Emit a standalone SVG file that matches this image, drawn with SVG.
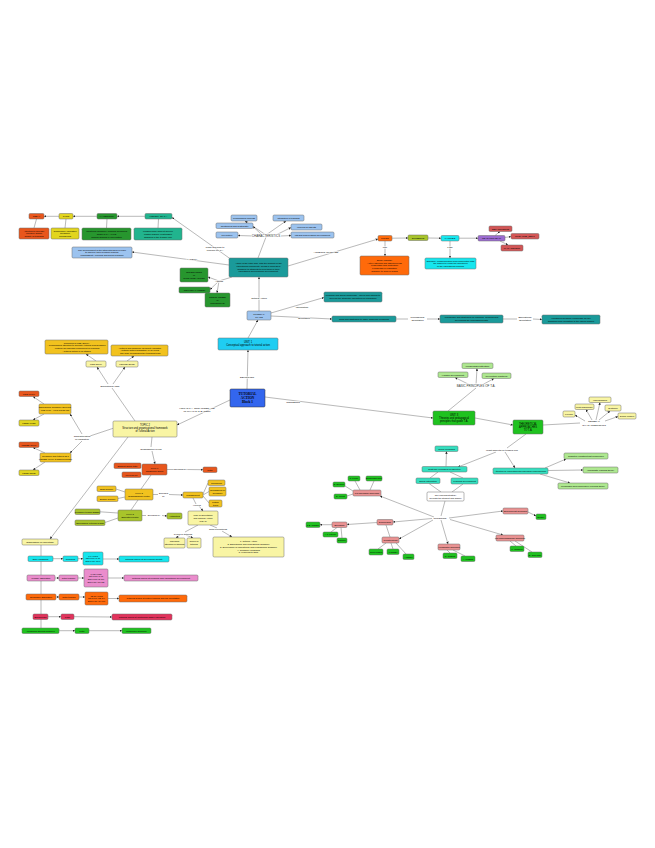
<svg xmlns="http://www.w3.org/2000/svg" width="655" height="848" viewBox="0 0 655 848">
<style>
text{font-family:"Liberation Sans",Arial,sans-serif;fill:#000;text-anchor:middle}
.s{font-size:2.3px}
.m{font-size:2.6px}
.lb{font-size:2.5px;paint-order:stroke;stroke:#fff;stroke-width:1.1px;stroke-linejoin:round}
.hb{font-size:3px;fill:#333;paint-order:stroke;stroke:#fff;stroke-width:1.1px}
.sf{font-family:"Liberation Serif","Times New Roman",serif;font-size:3.4px;font-weight:bold}
rect{stroke:#6d6d6d;stroke-width:0.5}
rect.bgd{stroke:none;fill:#fff}
.c line{stroke:#8a8a8a;stroke-width:0.6}
.c .a{marker-end:url(#ar)}
.or{fill:#e8561c}.ye{fill:#e2d51e}.gr{fill:#27962e}.te{fill:#21b48e}.lbl{fill:#9cc3ef}.tl{fill:#1a9a9a}
.oo{fill:#ff6a0a}.ol{fill:#a8c42a}.cy{fill:#16e6ee}.pu{fill:#9b6bd0}.rd{fill:#d35656}.go{fill:#f2c21e}
.ly{fill:#f9f5a4}.lg{fill:#aee890}.bg{fill:#1fc21f}.pk{fill:#ea9292}.pm{fill:#ea8ccc}.cr{fill:#e2335c}
.tq{fill:#35dfc0}.bl{fill:#3366ee}.u1{fill:#1fcdf2}.wh{fill:#ffffff}
</style>
<defs>
<marker id="ar" viewBox="0 0 10 10" refX="10" refY="5" markerWidth="2.4" markerHeight="2.4" markerUnits="userSpaceOnUse" orient="auto"><path d="M0,0L10,5L0,10z" fill="#222"/></marker>
</defs>
<rect class="bgd" x="0" y="0" width="655" height="848"/>
<g id="connectors" class="c">
<line class="a" x1="145" y1="216.3" x2="117" y2="216.3"/>
<line class="a" x1="97" y1="216.3" x2="73" y2="216.3"/>
<line class="a" x1="59" y1="216.3" x2="44" y2="216.3"/>
<line x1="36.5" y1="219" x2="34" y2="228"/>
<line x1="66" y1="219" x2="65" y2="228"/>
<line x1="107" y1="219" x2="106.5" y2="228"/>
<line x1="158.5" y1="219" x2="158" y2="228"/>
<line class="a" x1="232" y1="260" x2="172" y2="217.5"/>
<line class="a" x1="229" y1="265" x2="132" y2="252"/>
<line x1="232" y1="277" x2="219" y2="281"/>
<line class="a" x1="219" y1="281" x2="208" y2="277"/>
<line class="a" x1="219" y1="281" x2="210" y2="289.5"/>
<line class="a" x1="219" y1="281" x2="217" y2="293"/>
<line x1="258" y1="258" x2="266" y2="237"/>
<line class="a" x1="266" y1="235" x2="245" y2="221"/>
<line class="a" x1="266" y1="235" x2="286" y2="221"/>
<line class="a" x1="262" y1="235" x2="253" y2="226.5"/>
<line class="a" x1="276" y1="235" x2="291" y2="227.5"/>
<line class="a" x1="254" y1="236" x2="238" y2="235.5"/>
<line class="a" x1="281" y1="236" x2="291" y2="235.5"/>
<line class="a" x1="288" y1="266" x2="378" y2="239"/>
<line class="a" x1="392" y1="238.2" x2="408" y2="238"/>
<line class="a" x1="428" y1="238" x2="441" y2="238.2"/>
<line class="a" x1="459" y1="238.2" x2="478" y2="238.2"/>
<line class="a" x1="495" y1="235.5" x2="500" y2="231.5"/>
<line class="a" x1="505" y1="237.5" x2="511" y2="236.5"/>
<line class="a" x1="500" y1="241" x2="508" y2="245"/>
<line class="a" x1="385" y1="241" x2="385" y2="256"/>
<line class="a" x1="450" y1="241" x2="450" y2="258"/>
<line class="a" x1="259" y1="311" x2="259" y2="277"/>
<line class="a" x1="271" y1="313" x2="324" y2="297.5"/>
<line class="a" x1="271" y1="316" x2="332" y2="319"/>
<line x1="396" y1="319" x2="408" y2="319"/>
<line class="a" x1="427" y1="319" x2="440" y2="319"/>
<line x1="503" y1="319" x2="517" y2="319"/>
<line class="a" x1="533" y1="319" x2="542" y2="319.5"/>
<line class="a" x1="248" y1="338" x2="258" y2="320"/>
<line class="a" x1="247" y1="389" x2="248" y2="350"/>
<line class="a" x1="265" y1="397" x2="433" y2="418"/>
<line class="a" x1="230" y1="400" x2="177" y2="425"/>
<line x1="448" y1="411" x2="476" y2="388"/>
<line class="a" x1="476" y1="385" x2="477" y2="368.5"/>
<line class="a" x1="470" y1="385" x2="455" y2="377.5"/>
<line class="a" x1="482" y1="385" x2="494" y2="378.5"/>
<line class="a" x1="475" y1="418" x2="513" y2="425"/>
<line x1="543" y1="425" x2="580" y2="423"/>
<line class="a" x1="596" y1="420" x2="600" y2="402.5"/>
<line class="a" x1="592" y1="420" x2="586" y2="409.5"/>
<line class="a" x1="599" y1="420" x2="610" y2="411"/>
<line class="a" x1="585" y1="421" x2="575" y2="415"/>
<line class="a" x1="605" y1="421" x2="618" y2="416.5"/>
<line x1="526" y1="434" x2="507" y2="448"/>
<line class="a" x1="496" y1="452" x2="458" y2="467"/>
<line class="a" x1="505" y1="452" x2="515" y2="468"/>
<line class="a" x1="446" y1="466.5" x2="446.5" y2="451.5"/>
<line x1="438" y1="472" x2="430" y2="478"/>
<line x1="450" y1="472" x2="463" y2="478"/>
<line x1="429" y1="483.5" x2="441" y2="492"/>
<line x1="463" y1="484" x2="452" y2="492"/>
<line class="a" x1="545" y1="468" x2="566" y2="459"/>
<line class="a" x1="548" y1="470.5" x2="583" y2="470"/>
<line class="a" x1="540" y1="474" x2="570" y2="483"/>
<line x1="445" y1="501" x2="441" y2="516"/>
<line class="a" x1="434" y1="517" x2="380" y2="496"/>
<line class="a" x1="432" y1="518.5" x2="393" y2="522"/>
<line class="a" x1="449" y1="518" x2="503" y2="511"/>
<line class="a" x1="441" y1="520" x2="448" y2="544"/>
<line class="a" x1="450" y1="519.5" x2="503" y2="535"/>
<line class="a" x1="433" y1="520" x2="399" y2="539"/>
<line x1="360" y1="490" x2="355" y2="481"/>
<line x1="370" y1="490" x2="374" y2="481"/>
<line x1="353" y1="491" x2="345" y2="486"/>
<line x1="353" y1="494" x2="347" y2="496"/>
<line class="a" x1="377" y1="522.5" x2="347" y2="524.5"/>
<line class="a" x1="332" y1="524.7" x2="320" y2="524.7"/>
<line x1="337" y1="527.5" x2="331" y2="532"/>
<line x1="341" y1="527.5" x2="342" y2="538"/>
<line x1="386" y1="525" x2="390" y2="537"/>
<line x1="386" y1="543" x2="378" y2="549"/>
<line x1="391" y1="543" x2="393" y2="549"/>
<line x1="396" y1="543" x2="406" y2="554"/>
<line class="a" x1="528" y1="512" x2="536" y2="516"/>
<line x1="447" y1="550" x2="450" y2="553"/>
<line x1="453" y1="550" x2="465" y2="556"/>
<line x1="510" y1="541" x2="516" y2="546"/>
<line x1="515" y1="541" x2="532" y2="552"/>
<line x1="135" y1="421" x2="112" y2="388"/>
<line class="a" x1="108" y1="384" x2="97" y2="367"/>
<line class="a" x1="113" y1="384" x2="125" y2="367"/>
<line class="a" x1="96" y1="361" x2="86" y2="354"/>
<line class="a" x1="127" y1="361" x2="134" y2="356"/>
<line x1="114" y1="428" x2="90" y2="436"/>
<line class="a" x1="82" y1="434" x2="70" y2="414"/>
<line class="a" x1="82" y1="441" x2="70" y2="453"/>
<line class="a" x1="44" y1="404" x2="33" y2="396.5"/>
<line class="a" x1="44" y1="414" x2="33" y2="420"/>
<line class="a" x1="45" y1="453" x2="33" y2="447.5"/>
<line class="a" x1="45" y1="462" x2="33" y2="470"/>
<line x1="152" y1="437" x2="151" y2="447"/>
<line class="a" x1="152" y1="451" x2="155" y2="464"/>
<line x1="167" y1="469.5" x2="175" y2="469.5"/>
<line class="a" x1="186" y1="469.5" x2="203" y2="469.7"/>
<line x1="151" y1="475" x2="141" y2="489"/>
<line x1="125" y1="492" x2="116" y2="489"/>
<line x1="125" y1="497" x2="118" y2="498.5"/>
<line x1="153" y1="494.5" x2="158" y2="494.5"/>
<line class="a" x1="169" y1="494.5" x2="183" y2="495"/>
<line x1="203" y1="494" x2="208" y2="483"/>
<line x1="203" y1="495" x2="209" y2="491.5"/>
<line x1="203" y1="496" x2="209" y2="503"/>
<line x1="193" y1="498" x2="196" y2="504"/>
<line class="a" x1="199" y1="506" x2="203" y2="511"/>
<line x1="138" y1="500" x2="131" y2="510"/>
<line x1="118" y1="513" x2="100" y2="511.8"/>
<line x1="118" y1="518" x2="105" y2="522.5"/>
<line x1="142" y1="515.5" x2="146" y2="515.5"/>
<line class="a" x1="162" y1="515.5" x2="167" y2="516"/>
<line x1="198" y1="525" x2="185" y2="532"/>
<line class="a" x1="180" y1="535" x2="176" y2="538"/>
<line class="a" x1="186" y1="535" x2="193" y2="538"/>
<line x1="210" y1="525" x2="217" y2="528"/>
<line class="a" x1="222" y1="531" x2="232" y2="537"/>
<line class="a" x1="128" y1="437" x2="50" y2="539"/>
<line x1="41" y1="545" x2="41" y2="628"/>
<line class="a" x1="53" y1="558.7" x2="63" y2="558.7"/>
<line class="a" x1="78" y1="558.7" x2="83" y2="558.7"/>
<line class="a" x1="103" y1="559" x2="119" y2="559"/>
<line class="a" x1="55" y1="578" x2="59" y2="578"/>
<line class="a" x1="78" y1="578" x2="84" y2="578"/>
<line class="a" x1="108" y1="578" x2="124" y2="578"/>
<line class="a" x1="56" y1="597" x2="59" y2="597"/>
<line class="a" x1="79" y1="597" x2="85" y2="597"/>
<line class="a" x1="108" y1="598.5" x2="119" y2="598.5"/>
<line class="a" x1="48" y1="616.7" x2="61" y2="616.7"/>
<line class="a" x1="74" y1="616.7" x2="112" y2="617"/>
<line class="a" x1="59" y1="630.7" x2="75" y2="630.7"/>
<line class="a" x1="89" y1="630.7" x2="122" y2="630.7"/>
</g>
<g id="labels">
<text class="lb" x="215" y="248">What and how to</text>
<text class="lb" x="215" y="251">prepare for T.A</text>
<text class="lb" x="192" y="260">VALIDITY</text>
<text class="lb" x="219" y="282">Assess</text>
<text class="hb" x="266" y="236.5">CHARACTERISTICS</text>
<text class="lb" x="326" y="253">ASPECTS INVOLVED</text>
<text class="lb" x="385" y="248">Use</text>
<text class="lb" x="450" y="248">FOR</text>
<text class="lb" x="259" y="299">Tutorial Action</text>
<text class="lb" x="302" y="308">Information</text>
<text class="lb" x="304" y="318.8">Orientation</text>
<text class="lb" x="417.5" y="318">Professional</text>
<text class="lb" x="417.5" y="321">Orientation</text>
<text class="lb" x="525" y="318">Educational</text>
<text class="lb" x="525" y="321">Orientation</text>
<text class="lb" x="247" y="378">DEFINITION</text>
<text class="lb" x="293" y="403">CONTENTS</text>
<text class="lb" x="197" y="409">HOW IS T.A. ORGANISED AND</text>
<text class="lb" x="197" y="412.2">IN WHAT IS IT BASED?</text>
<text class="hb" x="476" y="387">BASIC PRINCIPLES OF T.A.</text>
<text class="lb" x="594" y="422">GENERAL</text>
<text class="lb" x="594" y="425.5">CHARACTERISTICS</text>
<text class="lb" x="502" y="451">What aspects is it based on?</text>
<text class="lb" x="440" y="519">TUTORING</text>
<text class="lb" x="110" y="387">Educational laws</text>
<text class="lb" x="82" y="436.5">Characteristics</text>
<text class="lb" x="82" y="439.8">of legislation</text>
<text class="lb" x="151" y="450">Organisation levels</text>
<text class="lb" x="180.5" y="470.3">Decided by</text>
<text class="lb" x="163.5" y="493.5">Decided</text>
<text class="lb" x="163.5" y="496.5">by</text>
<text class="lb" x="197" y="506">Helped</text>
<text class="lb" x="154" y="516.3">Decided by</text>
<text class="lb" x="183" y="534.5">Types of tutoring</text>
<text class="lb" x="218" y="530">Tutor's functions</text>
</g>
<g id="a1"><rect class="or" x="29" y="213.5" width="15" height="5.5" rx="1.2"/><text class="s" x="36.5" y="217.1">TODAY</text></g>
<g id="a2"><rect class="ye" x="59" y="213.5" width="14" height="5.5" rx="1.2"/><text class="s" x="66" y="217.1">1970s</text></g>
<g id="a3"><rect class="gr" x="97" y="213.5" width="20" height="5.5" rx="1.2"/><text class="s" x="107" y="217.1">XX CENTURY</text></g>
<g id="a4"><rect class="te" x="145" y="213.5" width="27" height="5.5" rx="1.2"/><text class="s" x="158.5" y="217.1">HISTORY OF T.A.</text></g>
<g id="b1"><rect class="or" x="19" y="228" width="30" height="11" rx="1.2"/><text class="s"><tspan x="34" y="231.6">Attention to diversity</tspan><tspan x="34" y="234.3">Inclusive school</tspan><tspan x="34" y="237">Quality of teaching</tspan></text></g>
<g id="b2"><rect class="ye" x="51" y="228" width="28" height="11" rx="1.2"/><text class="s"><tspan x="65" y="231.6">Compulsory education</tspan><tspan x="65" y="234.3">Guidance</tspan><tspan x="65" y="237">Counselling</tspan></text></g>
<g id="b3"><rect class="gr" x="82" y="228" width="49" height="12" rx="1.2"/><text class="s"><tspan x="106.5" y="232.1">Vocational guidance: Parsons and Davis</tspan><tspan x="106.5" y="234.8">Origin of T.A. in US</tspan><tspan x="106.5" y="237.5">Tutorial schools in universities</tspan></text></g>
<g id="b4"><rect class="te" x="134" y="228" width="48" height="12" rx="1.2"/><text class="s"><tspan x="158" y="232.1">Lessons from ancient Greece</tspan><tspan x="158" y="234.8">Master-disciple relationship</tspan><tspan x="158" y="237.5">Changes in the teacher role</tspan></text></g>
<g id="c1"><rect class="lbl" x="72" y="247" width="60" height="11" rx="1.2"/><text class="s"><tspan x="102" y="250.6">The development of the student's skills in order</tspan><tspan x="102" y="253.3">to improve their decision-making,</tspan><tspan x="102" y="256">responsibility, learning and social inclusion</tspan></text></g>
<g id="g1"><rect class="gr" x="180" y="268" width="28" height="14" rx="1.2"/><text class="s"><tspan x="194" y="273.1">SUPERVISION</tspan><tspan x="194" y="275.8">of</tspan><tspan x="194" y="278.5">GUIDANCE ACTION</tspan></text></g>
<g id="g2"><rect class="gr" x="179" y="287" width="31" height="6" rx="1.2"/><text class="s" x="194.5" y="290.8">INDIVIDUAL MODEL</text></g>
<g id="g3"><rect class="gr" x="205" y="293" width="25" height="14" rx="1.2"/><text class="s"><tspan x="217.5" y="298.1">GROUP MODEL</tspan><tspan x="217.5" y="300.8">or</tspan><tspan x="217.5" y="303.5">COLLECTIVE</tspan></text></g>
<g id="main"><rect class="tl" x="229" y="258" width="59" height="19" rx="1.2"/><text class="s"><tspan x="258.5" y="264.2">Action of the tutor who, with the support of the</tspan><tspan x="258.5" y="266.9">educational community, brings a process of</tspan><tspan x="258.5" y="269.6">guidance to students to help them in their</tspan><tspan x="258.5" y="272.3">educational and personal development.</tspan></text></g>
<g id="l1"><rect class="lbl" x="231" y="215" width="26" height="6" rx="1.2"/><text class="s" x="244" y="218.8">Personalised process</text></g>
<g id="l2"><rect class="lbl" x="273" y="215" width="31" height="6" rx="1.2"/><text class="s" x="288.5" y="218.8">Integrated in teaching</text></g>
<g id="l3"><rect class="lbl" x="216" y="223" width="37" height="5.5" rx="1.2"/><text class="s" x="234.5" y="226.6">Continuous and systematic</text></g>
<g id="l4"><rect class="lbl" x="291" y="224" width="31" height="6" rx="1.2"/><text class="s" x="306.5" y="227.8">Involves all agents</text></g>
<g id="l5"><rect class="lbl" x="216" y="232" width="22" height="6" rx="1.2"/><text class="s" x="227" y="235.8">Preventive</text></g>
<g id="l6"><rect class="lbl" x="291" y="232" width="43" height="6" rx="1.2"/><text class="s" x="312.5" y="235.8">Integral and personal development</text></g>
<g id="t1"><rect class="oo" x="378" y="235.5" width="14" height="5.5" rx="1.2"/><text class="s" x="385" y="239.1">TUTOR</text></g>
<g id="t2"><rect class="ol" x="408" y="235" width="20" height="5.5" rx="1.2"/><text class="s" x="418" y="238.6">STUDENTS</text></g>
<g id="t3"><rect class="cy" x="441" y="235.5" width="18" height="5.5" rx="1.2"/><text class="s" x="450" y="239.1">FAMILIES</text></g>
<g id="t4"><rect class="pu" x="478" y="235.5" width="27" height="5.5" rx="1.2"/><text class="s" x="491.5" y="239.1">TEACHING TEAM</text></g>
<g id="r1"><rect class="rd" x="489" y="226" width="23" height="5.5" rx="1.2"/><text class="s" x="500.5" y="229.6">DEPARTMENTS</text></g>
<g id="r2"><rect class="rd" x="511" y="233.5" width="28" height="5.5" rx="1.2"/><text class="s" x="525" y="237.1">GUIDANCE_DEPT.</text></g>
<g id="r3"><rect class="rd" x="501" y="245" width="22" height="6" rx="1.2"/><text class="s" x="512" y="248.8">MANAGEMENT</text></g>
<g id="ob"><rect class="oo" x="360" y="256" width="49" height="19" rx="1.2"/><text class="s"><tspan x="384.5" y="260.9">Skills: empathy</tspan><tspan x="384.5" y="263.6">Active listening and assertiveness</tspan><tspan x="384.5" y="266.3">Leadership and motivation</tspan><tspan x="384.5" y="269">Knowledge of legislation</tspan><tspan x="384.5" y="271.7">Capacity to work in teams</tspan></text></g>
<g id="cb"><rect class="cy" x="425" y="258" width="51" height="11" rx="1.2"/><text class="s"><tspan x="450.5" y="261.6">Dialogue, communication and cooperation with</tspan><tspan x="450.5" y="264.3">the school to reach the objectives</tspan><tspan x="450.5" y="267">of the educational process</tspan></text></g>
<g id="tp"><rect class="lbl" x="247" y="311" width="24" height="9" rx="1.2"/><text class="s"><tspan x="259" y="314.9">TUTORIAL</tspan><tspan x="259" y="317.6">PLANS</tspan></text></g>
<g id="i1"><rect class="tl" x="324" y="292" width="58" height="10" rx="1.2"/><text class="s"><tspan x="353" y="296.4">Personal and social knowledge, values and actions to</tspan><tspan x="353" y="299.1">develop the students' capacities for integration</tspan></text></g>
<g id="i2"><rect class="tl" x="332" y="316" width="64" height="6" rx="1.2"/><text class="s" x="364" y="319.8">Tools and strategies to make academic decisions</text></g>
<g id="i3"><rect class="tl" x="440" y="315" width="63" height="8" rx="1.2"/><text class="s"><tspan x="471.5" y="318.4">Knowledge and strategies for planning, deciding and</tspan><tspan x="471.5" y="321.1">developing the professional path</tspan></text></g>
<g id="i4"><rect class="tl" x="542" y="315" width="58" height="9" rx="1.2"/><text class="s"><tspan x="571" y="318.9">Vocational guidance knowledge for the</tspan><tspan x="571" y="321.6">transition from education to the labour market</tspan></text></g>
<g id="unit1"><rect class="u1" x="218" y="338" width="60" height="12" rx="1.2"/><text class="m"><tspan x="248" y="343">UNIT 1</tspan><tspan x="248" y="346.2">Conceptual approach to tutorial action</tspan></text></g>
<g id="ta"><rect class="bl" x="230" y="389" width="35" height="18" rx="1.2" style="stroke:#333"/><text class="sf"><tspan x="247.5" y="395.3">TUTORIAL</tspan><tspan x="247.5" y="399">ACTION</tspan><tspan x="247.5" y="402.7">Block 1</tspan></text></g>
<g id="unit3"><rect class="bg" x="433" y="411" width="42" height="14" rx="1.2"/><text class="m"><tspan x="454" y="416">UNIT 3</tspan><tspan x="454" y="419">Theories and pedagogical</tspan><tspan x="454" y="422">principles that guide T.A.</tspan></text></g>
<g id="bp1"><rect class="lg" x="462" y="363" width="31" height="5.5" rx="1.2"/><text class="s" x="477.5" y="366.6">"Personalised attention"</text></g>
<g id="bp2"><rect class="lg" x="438" y="372" width="30" height="5.5" rx="1.2"/><text class="s" x="453" y="375.6">"Holistic development"</text></g>
<g id="bp3"><rect class="lg" x="482" y="373" width="29" height="5.5" rx="1.2"/><text class="s" x="496.5" y="376.6">"Prevention practices"</text></g>
<g id="theo"><rect class="bg" x="513" y="420" width="30" height="14" rx="1.2"/><text class="m"><tspan x="528" y="425">THEORETICAL</tspan><tspan x="528" y="428">APPROACHES</tspan><tspan x="528" y="431">TO T.A.</tspan></text></g>
<g id="y1"><rect class="ly" x="589" y="397" width="22" height="5.5" rx="1.2"/><text class="s" x="600" y="400.6">Individualised</text></g>
<g id="y2"><rect class="ly" x="575" y="404" width="19" height="5.5" rx="1.2"/><text class="s" x="584.5" y="407.6">Multi-disciplinary</text></g>
<g id="y3"><rect class="ly" x="605" y="405" width="16" height="6" rx="1.2"/><text class="s" x="613" y="408.8">Systemic</text></g>
<g id="y4"><rect class="ly" x="563" y="411" width="12" height="6" rx="1.2"/><text class="s" x="569" y="414.8">Flexible</text></g>
<g id="y5"><rect class="ly" x="618" y="413" width="18" height="6" rx="1.2"/><text class="s" x="627" y="416.8">Social context</text></g>
<g id="te0"><rect class="tq" x="435" y="446" width="23" height="5.5" rx="1.2"/><text class="s" x="446.5" y="449.6">Group dynamics</text></g>
<g id="te1"><rect class="tq" x="422" y="466.5" width="45" height="5.5" rx="1.2"/><text class="s" x="444.5" y="470.1">Systemic-ecological perspective</text></g>
<g id="te2"><rect class="tq" x="416" y="478" width="24" height="5.5" rx="1.2"/><text class="s" x="428" y="481.6">Social interaction</text></g>
<g id="te3"><rect class="tq" x="451" y="478" width="27" height="6" rx="1.2"/><text class="s" x="464.5" y="481.8">Learning development</text></g>
<g id="w1"><rect class="wh" x="427" y="492" width="37" height="9" rx="1.2"/><text class="s"><tspan x="445.5" y="495.9">The learning strategy</tspan><tspan x="445.5" y="498.6">benefits the student and school</tspan></text></g>
<g id="tw"><rect class="tq" x="493" y="468" width="55" height="6" rx="1.2"/><text class="s" x="520.5" y="471.8">Attention to each student's individual learning pace</text></g>
<g id="lg1"><rect class="lg" x="564" y="453" width="44" height="6" rx="1.2"/><text class="s" x="586" y="456.8">Cognitive-constructivist perspective</text></g>
<g id="lg2"><rect class="lg" x="583" y="467" width="35" height="6" rx="1.2"/><text class="s" x="600.5" y="470.8">Humanistic learning theory</text></g>
<g id="lg3"><rect class="lg" x="558" y="483" width="50" height="6" rx="1.2"/><text class="s" x="583" y="486.8">Meaningful and cooperative learning theory</text></g>
<g id="pk1"><rect class="pk" x="353" y="490" width="28" height="6" rx="1.2"/><text class="s" x="367" y="493.8">Psychological approach</text></g>
<g id="gp1"><rect class="bg" x="348" y="476" width="12" height="5" rx="1.2"/><text class="s" x="354" y="479.3">P. Freire</text></g>
<g id="gp2"><rect class="bg" x="366" y="476" width="16" height="5" rx="1.2"/><text class="s" x="374" y="479.3">Bronfenbrenner</text></g>
<g id="gp3"><rect class="bg" x="333" y="482" width="12" height="5" rx="1.2"/><text class="s" x="339" y="485.3">E. Erikson</text></g>
<g id="gp4"><rect class="bg" x="334" y="494" width="13" height="5" rx="1.2"/><text class="s" x="340.5" y="497.3">S. Freud</text></g>
<g id="pk2"><rect class="pk" x="377" y="519.5" width="16" height="5.5" rx="1.2"/><text class="s" x="385" y="523.1">Sociological</text></g>
<g id="pk3"><rect class="pk" x="332" y="522" width="15" height="5.5" rx="1.2"/><text class="s" x="339.5" y="525.6">Biological</text></g>
<g id="gs1"><rect class="bg" x="306" y="522" width="14" height="5.5" rx="1.2"/><text class="s" x="313" y="525.6">J.B. Watson</text></g>
<g id="gs2"><rect class="bg" x="323" y="532" width="15" height="5" rx="1.2"/><text class="s" x="330.5" y="535.3">I. P. Pavlov</text></g>
<g id="gs3"><rect class="bg" x="337" y="538" width="10" height="5" rx="1.2"/><text class="s" x="342" y="541.3">Skinner</text></g>
<g id="pk4"><rect class="pk" x="382" y="537" width="17" height="6" rx="1.2"/><text class="s" x="390.5" y="540.8">Constructivist</text></g>
<g id="gc1"><rect class="bg" x="369" y="549" width="14" height="6" rx="1.2"/><text class="s" x="376" y="552.8">Jean Piaget</text></g>
<g id="gc2"><rect class="bg" x="387" y="549" width="12" height="5.5" rx="1.2"/><text class="s" x="393" y="552.6">Vygotsky</text></g>
<g id="gc3"><rect class="bg" x="403" y="554" width="11" height="5.5" rx="1.2"/><text class="s" x="408.5" y="557.6">Ausubel</text></g>
<g id="pk5"><rect class="pk" x="503" y="508" width="25" height="6" rx="1.2"/><text class="s" x="515.5" y="511.8">Behaviourist approach</text></g>
<g id="gb1"><rect class="bg" x="536" y="514" width="10" height="5.5" rx="1.2"/><text class="s" x="541" y="517.6">Dewey</text></g>
<g id="pk6"><rect class="pk" x="438" y="544" width="22" height="6" rx="1.2"/><text class="s" x="449" y="547.8">Humanistic approach</text></g>
<g id="gh1"><rect class="bg" x="443" y="553" width="14" height="5.5" rx="1.2"/><text class="s" x="450" y="556.6">C. Rogers</text></g>
<g id="gh2"><rect class="bg" x="461" y="556" width="14" height="5.5" rx="1.2"/><text class="s" x="468" y="559.6">A. Maslow</text></g>
<g id="pk7"><rect class="pk" x="496" y="535" width="28" height="6" rx="1.2"/><text class="s" x="510" y="538.8">Psychopedagogical approach</text></g>
<g id="gq1"><rect class="bg" x="510" y="546" width="14" height="5.5" rx="1.2"/><text class="s" x="517" y="549.6">H. Gardner</text></g>
<g id="gq2"><rect class="bg" x="528" y="552" width="14" height="5.5" rx="1.2"/><text class="s" x="535" y="555.6">D. Goleman</text></g>
<g id="k1"><rect class="go" x="45" y="340" width="63" height="14" rx="1.2"/><text class="s"><tspan x="76.5" y="343.7">Principles of LOE (2006):</tspan><tspan x="76.5" y="346.4">- Personalised attention to diversity; tutorial and guidance</tspan><tspan x="76.5" y="349.1">- Tutorial as essential component of teaching</tspan><tspan x="76.5" y="351.8">- Tutorial action in all stages</tspan></text></g>
<g id="k2"><rect class="go" x="111" y="345" width="57" height="11" rx="1.2"/><text class="s"><tspan x="139.5" y="348.6">- Tutorial and guidance as quality indicator</tspan><tspan x="139.5" y="351.3">- Tutorial action mandatory in all levels</tspan><tspan x="139.5" y="354">- The tutor coordinates the teaching team</tspan></text></g>
<g id="ly1"><rect class="ly" x="86" y="361" width="20" height="6" rx="1.2"/><text class="s" x="96" y="364.8">LOE (2006)</text></g>
<g id="ly2"><rect class="ly" x="116" y="361" width="22" height="6" rx="1.2"/><text class="s" x="127" y="364.8">LOMCE (2013)</text></g>
<g id="os1"><rect class="or" x="19" y="391" width="20" height="5.5" rx="1.2"/><text class="s" x="29" y="394.6">LGE (1970)</text></g>
<g id="kl1"><rect class="go" x="39" y="404" width="32" height="10" rx="1.2"/><text class="s"><tspan x="55" y="408.4">Educational Guidance Services</tspan><tspan x="55" y="411.1">LGE 1970 - Villar Palasí law</tspan></text></g>
<g id="ys1"><rect class="ye" x="19" y="420" width="20" height="6" rx="1.2"/><text class="s" x="29" y="423.8">LODE (1985)</text></g>
<g id="os2"><rect class="or" x="19" y="442" width="20" height="5.5" rx="1.2"/><text class="s" x="29" y="445.6">LOGSE (1990)</text></g>
<g id="kl2"><rect class="go" x="40" y="453" width="31" height="9" rx="1.2"/><text class="s"><tspan x="55.5" y="456.9">Guidance and tutorial as a</tspan><tspan x="55.5" y="459.6">LOGSE (1990) teaching function</tspan></text></g>
<g id="ys2"><rect class="ye" x="19" y="470" width="20" height="5.5" rx="1.2"/><text class="s" x="29" y="473.6">LOCE (2002)</text></g>
<g id="topic2"><rect class="ly" x="113" y="421" width="64" height="16" rx="1.2"/><text class="m"><tspan x="145" y="426.2">TOPIC 2</tspan><tspan x="145" y="429.3">Structure and organisational framework</tspan><tspan x="145" y="432.4">of Tutorial Action</tspan></text></g>
<g id="lv1"><rect class="or" x="142" y="464" width="25" height="11" rx="1.2"/><text class="s"><tspan x="154.5" y="468.9">Level 1</tspan><tspan x="154.5" y="471.6">Classroom-group</tspan></text></g>
<g id="lo1"><rect class="or" x="114" y="463" width="27" height="5.5" rx="1.2"/><text class="s" x="127.5" y="466.6">Student-group tutor</text></g>
<g id="lo2"><rect class="or" x="122" y="472" width="19" height="5.5" rx="1.2"/><text class="s" x="131.5" y="475.6">Level/Cycle</text></g>
<g id="lo3"><rect class="or" x="203" y="467" width="14" height="5.5" rx="1.2"/><text class="s" x="210" y="470.6">Tutor</text></g>
<g id="lv2"><rect class="go" x="125" y="489" width="28" height="11" rx="1.2"/><text class="s"><tspan x="139" y="493.9">Level 2</tspan><tspan x="139" y="496.6">Organisational center</tspan></text></g>
<g id="lg_1"><rect class="go" x="97" y="486" width="19" height="5.5" rx="1.2"/><text class="s" x="106.5" y="489.6">Staff Council</text></g>
<g id="lg_2"><rect class="go" x="97" y="496" width="21" height="5.5" rx="1.2"/><text class="s" x="107.5" y="499.6">School Council</text></g>
<g id="lg_3"><rect class="go" x="183" y="492" width="20" height="6" rx="1.2"/><text class="s" x="193" y="495.8">Management</text></g>
<g id="lg_4"><rect class="go" x="208" y="480" width="17" height="5.5" rx="1.2"/><text class="s" x="216.5" y="483.6">Counsellor</text></g>
<g id="lg_5"><rect class="go" x="209" y="487" width="17" height="9" rx="1.2"/><text class="s"><tspan x="217.5" y="490.9">Department of</tspan><tspan x="217.5" y="493.6">Guidance</tspan></text></g>
<g id="lg_6"><rect class="go" x="209" y="500" width="13" height="7" rx="1.2"/><text class="s"><tspan x="215.5" y="502.9">Tutors'</tspan><tspan x="215.5" y="505.6">team</tspan></text></g>
<g id="lyb"><rect class="ly" x="188" y="511" width="30" height="14" rx="1.2"/><text class="s"><tspan x="203" y="516.1">Plan of Orientation</tspan><tspan x="203" y="518.8">and Tutorial Action</tspan><tspan x="203" y="521.5">(POAT)</tspan></text></g>
<g id="lv3"><rect class="ol" x="118" y="510" width="24" height="11" rx="1.2"/><text class="s"><tspan x="130" y="514.9">Level 3</tspan><tspan x="130" y="517.6">Education sector</tspan></text></g>
<g id="lt1"><rect class="ol" x="75" y="509" width="25" height="5.5" rx="1.2"/><text class="s" x="87.5" y="512.6">Guidance teams (EOEP)</text></g>
<g id="lt2"><rect class="ol" x="75" y="520" width="30" height="5.5" rx="1.2"/><text class="s" x="90" y="523.6">Specialised external teams</text></g>
<g id="lt3"><rect class="ol" x="167" y="513" width="15" height="6" rx="1.2"/><text class="s" x="174.5" y="516.8">Authorities</text></g>
<g id="st1"><rect class="ly" x="164" y="538" width="21" height="10" rx="1.2"/><text class="s"><tspan x="174.5" y="542.4">Individual</tspan><tspan x="174.5" y="545.1">attention of tutoring</tspan></text></g>
<g id="st2"><rect class="ly" x="187" y="538" width="14" height="10" rx="1.2"/><text class="s"><tspan x="194" y="542.4">Group of</tspan><tspan x="194" y="545.1">tutoring</tspan></text></g>
<g id="big"><rect class="ly" x="213" y="537" width="71" height="20" rx="1.2"/><text class="s"><tspan x="248.5" y="542.4">1. Tutorial Action</tspan><tspan x="248.5" y="545.1">2. Educational and professional guidance</tspan><tspan x="248.5" y="547.8">3. Supervision of educational and professional guidance</tspan><tspan x="248.5" y="550.5">4. Guidance programs</tspan><tspan x="248.5" y="553.2">5. Learning to think</tspan></text></g>
<g id="oes"><rect class="ly" x="22" y="539" width="36" height="6" rx="1.2"/><text class="s" x="40" y="542.8">Organisation of each stage</text></g>
<g id="r1a"><rect class="cy" x="28" y="556" width="25" height="5.5" rx="1.2"/><text class="s" x="40.5" y="559.6">Early childhood</text></g>
<g id="r1b"><rect class="cy" x="63" y="556" width="15" height="5.5" rx="1.2"/><text class="s" x="70.5" y="559.6">Teachers</text></g>
<g id="r1c"><rect class="cy" x="83" y="552" width="20" height="13" rx="1.2"/><text class="s"><tspan x="93" y="556.6">0-6 years</tspan><tspan x="93" y="559.3">1st cycle (0-3)</tspan><tspan x="93" y="562">2nd cycle (3-6)</tspan></text></g>
<g id="r1d"><rect class="cy" x="119" y="556" width="50" height="6" rx="1.2"/><text class="s" x="144" y="559.8">Tutoring aimed at developing identity</text></g>
<g id="r2a"><rect class="pm" x="27" y="575" width="28" height="6" rx="1.2"/><text class="s" x="41" y="578.8">Primary Education</text></g>
<g id="r2b"><rect class="pm" x="59" y="575" width="19" height="6" rx="1.2"/><text class="s" x="68.5" y="578.8">Tutor teacher</text></g>
<g id="r2c"><rect class="pm" x="84" y="569" width="24" height="18" rx="1.2"/><text class="s"><tspan x="96" y="574.7">6-12 years</tspan><tspan x="96" y="577.4">1st cycle (6-8)</tspan><tspan x="96" y="580.1">2nd cycle (8-10)</tspan><tspan x="96" y="582.8">3rd cycle (10-12)</tspan></text></g>
<g id="r2d"><rect class="pm" x="124" y="575" width="74" height="6" rx="1.2"/><text class="s" x="161" y="578.8">Tutoring aimed at personal and educational development</text></g>
<g id="r3a"><rect class="oo" x="26" y="594" width="30" height="6" rx="1.2"/><text class="s" x="41" y="597.8">Secondary Education</text></g>
<g id="r3b"><rect class="oo" x="59" y="594" width="20" height="6" rx="1.2"/><text class="s" x="69" y="597.8">Tutor teacher</text></g>
<g id="r3c"><rect class="oo" x="85" y="592" width="23" height="13" rx="1.2"/><text class="s"><tspan x="96.5" y="596.6">12-16 years</tspan><tspan x="96.5" y="599.3">1st cycle (12-14)</tspan><tspan x="96.5" y="602">2nd cycle (14-16)</tspan></text></g>
<g id="r3d"><rect class="oo" x="119" y="595" width="68" height="7" rx="1.2"/><text class="s" x="153" y="599.3">Tutoring aimed at further training and job orientation</text></g>
<g id="r4a"><rect class="cr" x="33" y="614" width="15" height="5.5" rx="1.2"/><text class="s" x="40.5" y="617.6">Bachillerato</text></g>
<g id="r4b"><rect class="cr" x="61" y="614" width="13" height="5.5" rx="1.2"/><text class="s" x="67.5" y="617.6">Tutor</text></g>
<g id="r4d"><rect class="cr" x="112" y="614" width="60" height="6" rx="1.2"/><text class="s" x="142" y="617.8">Tutoring aimed at continuing higher education</text></g>
<g id="r5a"><rect class="bg" x="22" y="628" width="37" height="5.5" rx="1.2"/><text class="s" x="40.5" y="631.6">Vocational training modules</text></g>
<g id="r5b"><rect class="bg" x="75" y="628" width="14" height="5.5" rx="1.2"/><text class="s" x="82" y="631.6">Tutor</text></g>
<g id="r5d"><rect class="bg" x="122" y="628" width="29" height="5.5" rx="1.2"/><text class="s" x="136.5" y="631.6">Workplace guidance</text></g>
</svg>
